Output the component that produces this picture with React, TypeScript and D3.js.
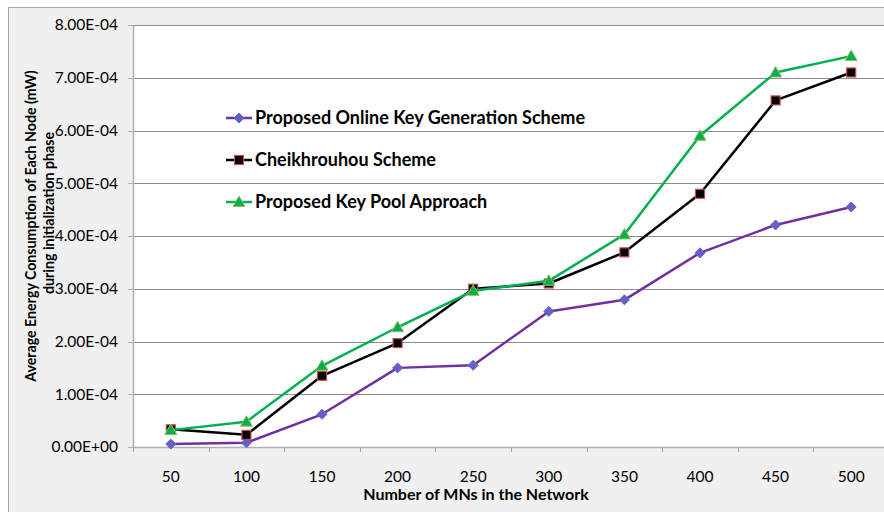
import React from "react";
import * as d3 from "d3";

const categories = [50, 100, 150, 200, 250, 300, 350, 400, 450, 500];
const onlineKeyGen = [5.5e-6, 8e-6, 6.2e-5, 1.5e-4, 1.55e-4, 2.57e-4, 2.79e-4, 3.68e-4, 4.21e-4, 4.55e-4];
const cheikhrouhou = [3.35e-5, 2.3e-5, 1.35e-4, 1.97e-4, 3.0e-4, 3.1e-4, 3.69e-4, 4.8e-4, 6.57e-4, 7.1e-4];
const keyPool = [3.2e-5, 4.8e-5, 1.54e-4, 2.27e-4, 2.96e-4, 3.15e-4, 4.03e-4, 5.9e-4, 7.1e-4, 7.41e-4];
const yTicks = [0, 1e-4, 2e-4, 3e-4, 4e-4, 5e-4, 6e-4, 7e-4, 8e-4];
const seriesNames = ["Proposed Online Key Generation Scheme", "Cheikhrouhou Scheme", "Proposed Key Pool Approach"];

const FONT = "Lato, 'Liberation Sans', sans-serif";

function fmt(v: number) {
  const [m, e] = v.toExponential(2).split("e");
  const sign = e[0] === "-" ? "-" : "+";
  const digits = e.replace(/[+-]/, "").padStart(2, "0");
  return `${m}E${sign}${digits}`;
}

type Marker = "diamond" | "square" | "triangle";

function MarkerShape({ type, x, y, fill, stroke }: { type: Marker; x: number; y: number; fill: string; stroke: string }) {
  if (type === "diamond") {
    const r = 5;
    return <path d={`M${x},${y - r}L${x + r},${y}L${x},${y + r}L${x - r},${y}Z`} fill={fill} stroke={stroke} strokeWidth={1} />;
  }
  if (type === "square") {
    const s = 9;
    return <rect x={x - s / 2} y={y - s / 2} width={s} height={s} fill={fill} stroke={stroke} strokeWidth={1.2} />;
  }
  const r = 6;
  return <path d={`M${x},${y - r}L${x + r},${y + r * 0.75}L${x - r},${y + r * 0.75}Z`} fill={fill} stroke={stroke} strokeWidth={1} />;
}

export default function App() {
  const W = 884, H = 512;
  const left = 133, top = 25, bottom = 447, right = 889;
  const x = d3.scaleBand<number>().domain(categories).range([left, right]).paddingInner(0).paddingOuter(0);
  const y = d3.scaleLinear().domain([0, 8e-4]).range([bottom, top]);
  const cx = (c: number) => (x(c) as number) + x.bandwidth() / 2;

  const line = d3.line<number>().x((_, i) => cx(categories[i])).y((d) => y(d));

  const series = [
    { name: seriesNames[0], data: onlineKeyGen, color: "#7030A0", marker: "diamond" as Marker, mFill: "#6F5BC8", mStroke: "#4F6FC0" },
    { name: seriesNames[1], data: cheikhrouhou, color: "#000000", marker: "square" as Marker, mFill: "#000000", mStroke: "#C0504D" },
    { name: seriesNames[2], data: keyPool, color: "#00B050", marker: "triangle" as Marker, mFill: "#00B050", mStroke: "#9BBB59" },
  ];

  const bounds = [...categories.map((c) => x(c) as number), right];

  return (
    <svg width={W} height={H} style={{ position: "absolute", left: 0, top: 0 }} fontFamily={FONT}>
      <rect x={0} y={0} width={W} height={H} fill="#ffffff" />
      <rect x={8.5} y={7.5} width={W + 20} height={H + 20} fill="#F0F0F0" stroke="#A6A6A6" strokeWidth={1} />
      <rect x={left} y={top} width={right - left} height={bottom - top} fill="#ffffff" />
      {yTicks.map((t) => (
        <g key={t}>
          {t > 0 && <line x1={left} x2={right + 10} y1={Math.round(y(t)) + 0.5} y2={Math.round(y(t)) + 0.5} stroke="#8C8C8C" strokeWidth={1} />}
          <line x1={left - 5} x2={left} y1={Math.round(y(t)) + 0.5} y2={Math.round(y(t)) + 0.5} stroke="#B0B0B0" strokeWidth={1} />
          <text x={118} y={y(t)} dy="0.35em" textAnchor="end" fontSize={15.5} fill="#000">{fmt(t)}</text>
        </g>
      ))}
      <line x1={left + 0.5} x2={left + 0.5} y1={top} y2={bottom} stroke="#B0B0B0" strokeWidth={1.5} />
      <line x1={left} x2={right + 10} y1={bottom + 0.5} y2={bottom + 0.5} stroke="#B0B0B0" strokeWidth={1.5} />
      {bounds.map((b, i) => (
        <line key={i} x1={Math.round(b) + 0.5} x2={Math.round(b) + 0.5} y1={bottom} y2={bottom + 5} stroke="#A0A0A0" strokeWidth={1} />
      ))}
      {categories.map((c) => (
        <text key={c} x={cx(c)} y={477} dy="0.35em" textAnchor="middle" fontSize={15.5} fill="#000">{c}</text>
      ))}
      <text x={476} y={494} dy="0.35em" textAnchor="middle" fontSize={16} fontWeight="bold" fill="#000">Number of MNs in the Network</text>
      <text transform="translate(31,226) rotate(-90)" textAnchor="middle" dy="0.35em" fontSize={14.2} fontWeight="bold" fill="#000">Average Energy Consumption of Each Node (mW)</text>
      <text transform="translate(49,213) rotate(-90)" textAnchor="middle" dy="0.35em" fontSize={14.2} fontWeight="bold" fill="#000">during initialization phase</text>

      {series.map((s) => (
        <g key={s.name}>
          <path d={line(s.data) || ""} fill="none" stroke={s.color} strokeWidth={2.5} strokeLinejoin="round" />
          {s.data.map((v, i) => (
            <MarkerShape key={i} type={s.marker} x={cx(categories[i])} y={y(v)} fill={s.mFill} stroke={s.mStroke} />
          ))}
        </g>
      ))}

      {series.map((s, i) => {
        const ly = 118 + i * 42;
        return (
          <g key={"leg" + i}>
            <line x1={226} x2={252} y1={ly} y2={ly} stroke={s.color} strokeWidth={2.5} />
            <MarkerShape type={s.marker} x={239} y={ly} fill={s.mFill} stroke={s.mStroke} />
            <text x={255} y={ly} dy="0.35em" fontSize={18} fontWeight="bold" fill="#000">{s.name}</text>
          </g>
        );
      })}
    </svg>
  );
}
